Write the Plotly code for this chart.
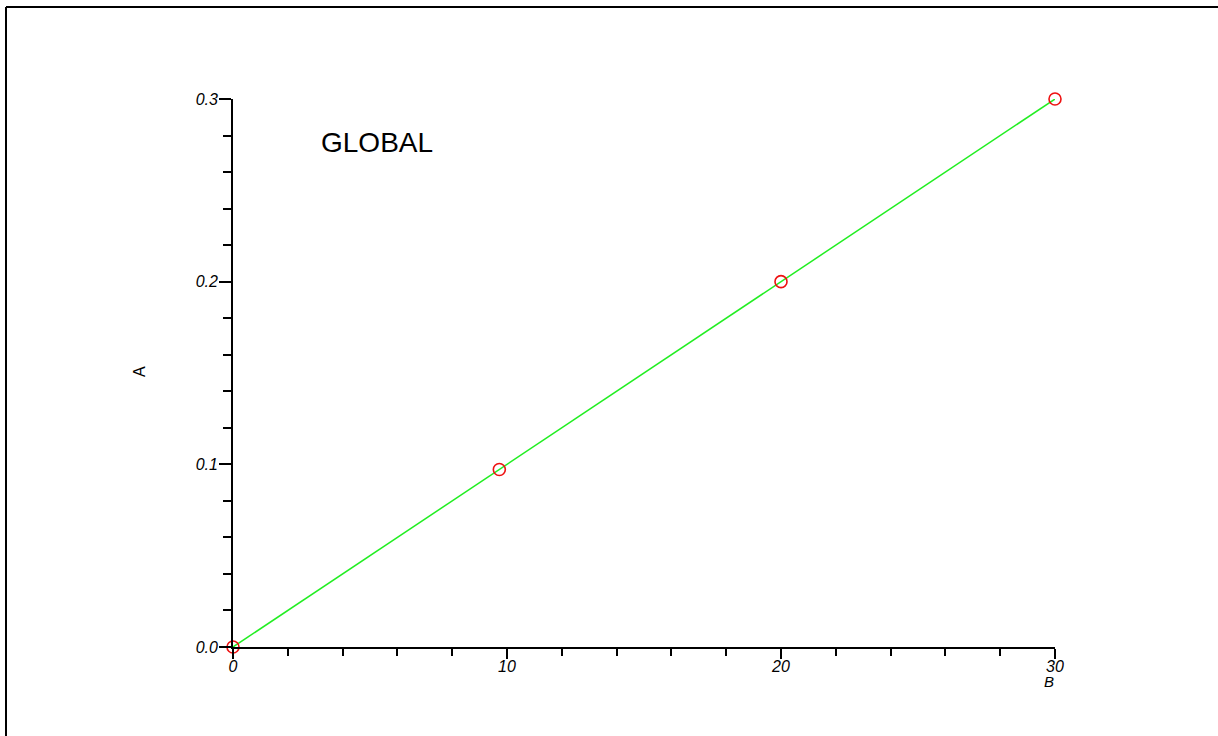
import plotly.graph_objects as go

# Measured values
b_values = [0, 9.72, 20, 30]
a_values = [0, 0.0972, 0.2, 0.3]

x_ticks = [0, 10, 20, 30]
x_tick_labels = ["0", "10", "20", "30"]
y_ticks = [0.0, 0.1, 0.2, 0.3]
y_tick_labels = ["0.0", "0.1", "0.2", "0.3"]

W, H = 1218, 736
L, R, T, B = 233, 163, 99, 89
pw, ph = W - L - R, H - T - B


def px_x(p):
    return (p - L) / pw


def px_y(p):
    return (H - B - p) / ph


font = "Liberation Sans, Arial, sans-serif"

fig = go.Figure()
fig.add_trace(go.Scatter(
    x=b_values, y=a_values, mode="lines",
    line=dict(color="#22ee22", width=1.5),
    showlegend=False, cliponaxis=False,
))
fig.add_trace(go.Scatter(
    x=b_values, y=a_values, mode="markers",
    marker=dict(symbol="circle-open", size=12, color="#ee1111", line=dict(width=1.6)),
    showlegend=False, cliponaxis=False,
))

axis_common = dict(
    showgrid=False, zeroline=False, showline=True, linecolor="black", linewidth=1.8,
    ticks="outside", tickcolor="black", tickwidth=1.5,
    tickfont=dict(family=font, size=16, color="black", style="italic"),
)

fig.update_xaxes(
    range=[0, 30], tickvals=x_ticks, ticktext=x_tick_labels, ticklen=10,
    ticklabelstandoff=-6,
    minor=dict(dtick=2, tick0=0, ticks="outside", ticklen=7, tickcolor="black", tickwidth=1.5),
    **axis_common,
)
fig.update_yaxes(
    range=[0, 0.3], tickvals=y_ticks, ticktext=y_tick_labels, ticklen=12,
    ticklabelstandoff=-2,
    minor=dict(dtick=0.02, tick0=0, ticks="outside", ticklen=8, tickcolor="black", tickwidth=1.5),
    **axis_common,
)

fig.add_annotation(
    x=px_x(319), y=px_y(142), xref="paper", yref="paper", text="GLOBAL",
    showarrow=False, xanchor="left", yanchor="middle",
    font=dict(family=font, size=28, color="black"),
)
fig.add_annotation(
    x=px_x(139), y=px_y(372), xref="paper", yref="paper", text="A",
    showarrow=False, textangle=-90, xanchor="center", yanchor="middle",
    font=dict(family=font, size=16, color="black"),
)
fig.add_annotation(
    x=px_x(1049), y=px_y(681), xref="paper", yref="paper", text="B",
    showarrow=False, xanchor="center", yanchor="middle",
    font=dict(family=font, size=15, color="black", style="italic"),
)

# Outer frame: top and left edges
frame = dict(color="black", width=2)
fig.add_shape(type="line", xref="paper", yref="paper",
              x0=px_x(6), y0=px_y(7), x1=px_x(W + 20), y1=px_y(7), line=frame)
fig.add_shape(type="line", xref="paper", yref="paper",
              x0=px_x(6), y0=px_y(7), x1=px_x(6), y1=px_y(H + 20), line=frame)

fig.update_layout(
    width=W, height=H,
    margin=dict(l=L, r=R, t=T, b=B),
    paper_bgcolor="white", plot_bgcolor="white",
)

fig.write_html("out.html")
